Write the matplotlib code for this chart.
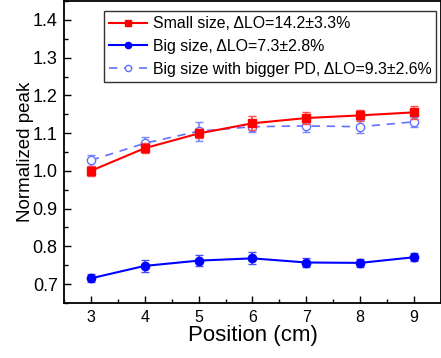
import matplotlib
matplotlib.use("Agg")
import matplotlib.pyplot as plt
from matplotlib.ticker import MultipleLocator

plt.rcParams['font.family'] = ['Liberation Sans', 'DejaVu Sans']

# data
position = [3, 4, 5, 6, 7, 8, 9]

small_peak = [1.000, 1.060, 1.099, 1.126, 1.140, 1.147, 1.155]
small_err = [0.014, 0.013, 0.012, 0.019, 0.017, 0.015, 0.018]

big_peak = [0.715, 0.748, 0.762, 0.768, 0.757, 0.756, 0.771]
big_err = [0.011, 0.015, 0.014, 0.016, 0.013, 0.011, 0.010]

bigpd_peak = [1.028, 1.073, 1.105, 1.117, 1.119, 1.117, 1.130]
bigpd_err = [0.014, 0.018, 0.025, 0.015, 0.016, 0.017, 0.014]

labels = ['Small size, \u0394LO=14.2\u00b13.3%',
          'Big size, \u0394LO=7.3\u00b12.8%',
          'Big size with bigger PD, \u0394LO=9.3\u00b12.6%']

fig = plt.figure(figsize=(4.41, 3.58), dpi=100)
ax = fig.add_axes([0.145, 0.154, 0.855, 0.843])

c1 = ax.errorbar(position, small_peak, yerr=small_err, color='#ff0000', marker='s',
                 markersize=6, linewidth=1.5, ecolor='#ff4a4a', elinewidth=1.2,
                 capsize=3, zorder=3)
c2 = ax.errorbar(position, big_peak, yerr=big_err, color='#0000ff', marker='o',
                 markersize=6, linewidth=1.5, ecolor='#4a4aff', elinewidth=1.2,
                 capsize=3, zorder=3)
c3 = ax.errorbar(position, bigpd_peak, yerr=bigpd_err, color='#6272ff', marker='o',
                 markersize=6, markerfacecolor='white', linewidth=1.2,
                 linestyle=(0, (5, 4)), ecolor='#7a88ff', elinewidth=1.2,
                 capsize=3, zorder=2)

ax.set_xlim(2.5, 9.5)
ax.set_ylim(0.65, 1.45)
ax.xaxis.set_major_locator(MultipleLocator(1))
ax.xaxis.set_minor_locator(MultipleLocator(0.5))
ax.yaxis.set_major_locator(MultipleLocator(0.1))
ax.yaxis.set_minor_locator(MultipleLocator(0.05))
ax.tick_params(which='both', direction='in', width=1)
ax.tick_params(which='major', length=5)
ax.tick_params(which='minor', length=3)
ax.tick_params(axis='x', labelsize=11.5, pad=5)
ax.tick_params(axis='y', labelsize=13, pad=4.5)
ax.yaxis.set_major_formatter(plt.FormatStrFormatter('%.1f'))
for s in ax.spines.values():
    s.set_linewidth(1.3)

ax.set_xlabel('Position (cm)', fontsize=16, labelpad=0)
ax.set_ylabel('Normalized peak', fontsize=13.5, labelpad=-1)

# legend shows plain line+marker handles, no error bars
leg = ax.legend([c1[0], c2[0], c3[0]], labels, loc='upper right',
                bbox_to_anchor=(0.988, 0.966), borderaxespad=0,
                fontsize=11.4, frameon=True, fancybox=False, edgecolor='black',
                borderpad=0.3, labelspacing=0.5, markerscale=0.75,
                handlelength=2.4, handletextpad=0.4)
leg.get_frame().set_linewidth(1.0)

fig.savefig('out.png', dpi=100)
